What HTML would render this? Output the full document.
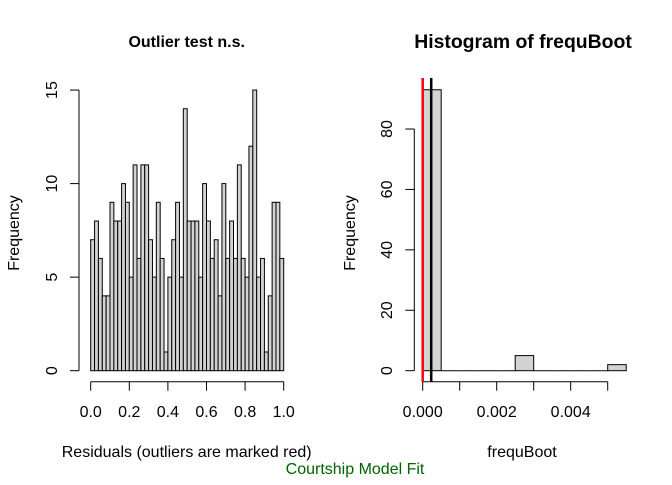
<!DOCTYPE html>
<html><head><meta charset="utf-8"><style>
html,body{margin:0;padding:0;background:#fff}
svg text{font-family:"Liberation Sans",Arial,sans-serif;fill:#000}
</style></head><body>
<svg width="672" height="480" viewBox="0 0 672 480" xmlns="http://www.w3.org/2000/svg">
<g id="left"></g>
<g id="right"></g>
<text x="186.7" y="47" font-size="16" font-weight="bold" text-anchor="middle">Outlier test n.s.</text>
<text x="523" y="48" font-size="19.4" font-weight="bold" text-anchor="middle">Histogram of frequBoot</text>
<text x="186.7" y="457" font-size="16" text-anchor="middle">Residuals (outliers are marked red)</text>
<text x="522" y="457" font-size="16" text-anchor="middle">frequBoot</text>
<text transform="translate(19,233) rotate(-90)" font-size="16" text-anchor="middle">Frequency</text>
<text transform="translate(355,233) rotate(-90)" font-size="16" text-anchor="middle">Frequency</text>
<text x="355" y="474" font-size="16" text-anchor="middle" style="fill:#006400">Courtship Model Fit</text>
</svg>
<script>
const leftCounts=[7,8,6,4,4,9,8,8,10,9,5,11,6,11,11,7,5,9,6,1,5,7,9,5,14,8,8,8,5,10,8,6,7,4,10,6,8,6,11,6,5,12,15,5,6,1,4,9,9,6];
const leftXTicks=[0,0.2,0.4,0.6,0.8,1.0];
const leftXTickLabels=["0.0","0.2","0.4","0.6","0.8","1.0"];
const leftYTicks=[0,5,10,15];
const rightBreaks=[0,0.0005,0.001,0.0015,0.002,0.0025,0.003,0.0035,0.004,0.0045,0.005,0.0055];
const rightCounts=[93,0,0,0,0,5,0,0,0,0,2];
const rightXTicks=[0,0.001,0.002,0.003,0.004,0.005];
const rightXTickLabels=["0.000","","0.002","","0.004",""];
const rightYTicks=[0,20,40,60,80];
const redLineValue=0;
const blackLineValue=0.00023;
const NS='http://www.w3.org/2000/svg';
function mk(p,t,a){const e=document.createElementNS(NS,t);for(const k in a)e.setAttribute(k,a[k]);p.appendChild(e);return e;}
// left
const L=document.getElementById('left');
const lx=v=>90.7+v*193, ly=v=>370.7-v*18.71;
const w=1/leftCounts.length;
leftCounts.forEach((c,i)=>{
 const r=mk(L,'rect',{x:lx(i*w),y:ly(c),width:lx((i+1)*w)-lx(i*w),height:ly(0)-ly(c),fill:'#d3d3d3',stroke:'#000','stroke-width':1});
 
 
});
mk(L,'line',{x1:lx(0),x2:lx(1),y1:381.7,y2:381.7,stroke:'#000'});
leftXTicks.forEach((t,i)=>{
 mk(L,'line',{x1:lx(t),x2:lx(t),y1:381.7,y2:390.7,stroke:'#000'});
 const tx=mk(L,'text',{x:lx(t),y:417,'font-size':16,'text-anchor':'middle'});tx.textContent=leftXTickLabels[i];
 
 
});
mk(L,'line',{x1:79,x2:79,y1:ly(0),y2:ly(15),stroke:'#000'});
leftYTicks.forEach(t=>{
 mk(L,'line',{x1:70,x2:79,y1:ly(t),y2:ly(t),stroke:'#000'});
 const tx=mk(L,'text',{transform:`translate(${57},${ly(t)}) rotate(-90)`,'font-size':16,'text-anchor':'middle'});tx.textContent=t;
 
 
});
// right
const R=document.getElementById('right');
const rx=v=>422.7+v*37000, ry=v=>370.7-v*3.021;
rightCounts.forEach((c,i)=>{
 const x0=rx(rightBreaks[i]),x1=rx(rightBreaks[i+1]);
 if(c>0){
  const r=mk(R,'rect',{x:x0,y:ry(c),width:x1-x0,height:ry(0)-ry(c),fill:'#d3d3d3',stroke:'#000','stroke-width':1});
  
  
 } else {
  const r=mk(R,'line',{x1:x0,x2:x1,y1:ry(0),y2:ry(0),stroke:'#000','stroke-width':1});
  
  
 }
});
mk(R,'line',{x1:rx(0),x2:rx(0.005),y1:381.7,y2:381.7,stroke:'#000'});
rightXTicks.forEach((t,i)=>{
 mk(R,'line',{x1:rx(t),x2:rx(t),y1:381.7,y2:390.7,stroke:'#000'});
 if(rightXTickLabels[i]){const tx=mk(R,'text',{x:rx(t),y:417,'font-size':16,'text-anchor':'middle'});tx.textContent=rightXTickLabels[i];
 
 }
});
mk(R,'line',{x1:414.3,x2:414.3,y1:ry(0),y2:ry(80),stroke:'#000'});
rightYTicks.forEach(t=>{
 mk(R,'line',{x1:405.3,x2:414.3,y1:ry(t),y2:ry(t),stroke:'#000'});
 const tx=mk(R,'text',{transform:`translate(${392},${ry(t)}) rotate(-90)`,'font-size':16,'text-anchor':'middle'});tx.textContent=t;
 
 
});
const rl=mk(R,'line',{x1:rx(redLineValue),x2:rx(redLineValue),y1:78,y2:381.7,stroke:'#ff0000','stroke-width':2.5});


const bl=mk(R,'line',{x1:rx(blackLineValue),x2:rx(blackLineValue),y1:78,y2:381.7,stroke:'#000','stroke-width':2.5});


</script>
</body></html>
